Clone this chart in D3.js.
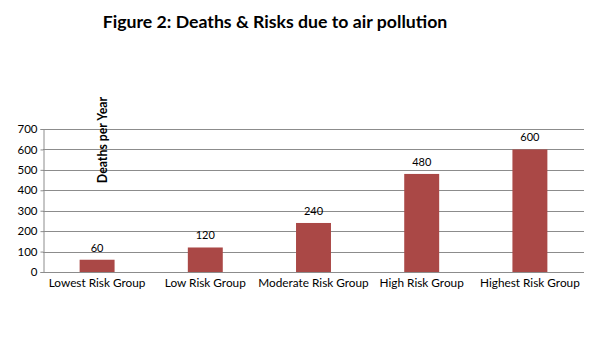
<!DOCTYPE html>
<html>
<head>
<meta charset="utf-8">
<script src="https://cdn.jsdelivr.net/npm/d3@7"></script>
<style>
  html, body { margin: 0; padding: 0; background: #fff; }
  svg { display: block; font-family: Lato, "Open Sans", sans-serif; }
</style>
</head>
<body>
<svg id="chart" width="605" height="340"></svg>
<script>
const categories = ["Lowest Risk Group", "Low Risk Group", "Moderate Risk Group", "High Risk Group", "Highest Risk Group"];
const deaths = [60, 120, 240, 480, 600];
const yTicks = [0, 100, 200, 300, 400, 500, 600, 700];
const titleText = "Figure 2: Deaths & Risks due to air pollution";
const yLabel = "Deaths per Year";

const svg = d3.select("#chart");
const margin = { left: 43, right: 20, top: 129, bottom: 68 };
const W = 605, H = 340;

const x = d3.scaleBand()
  .domain(categories)
  .range([margin.left, W - margin.right - 1])
  .paddingInner(0.677)
  .paddingOuter(0.3385);

const y = d3.scaleLinear()
  .domain([0, 700])
  .range([H - margin.bottom, margin.top]);

// horizontal gridlines
svg.append("g")
  .selectAll("line")
  .data(yTicks)
  .join("line")
  .attr("x1", margin.left)
  .attr("x2", W - margin.right - 1)
  .attr("y1", d => Math.round(y(d)) + 0.5)
  .attr("y2", d => Math.round(y(d)) + 0.5)
  .attr("stroke", "#8c8c8c")
  .attr("stroke-width", 1);

// y axis
const yAxis = svg.append("g")
  .attr("transform", `translate(${margin.left + 0.5},0)`)
  .call(d3.axisLeft(y).tickValues(yTicks).tickSize(3).tickPadding(3).tickFormat(d3.format("d")));
yAxis.select(".domain").attr("stroke", "#8c8c8c");
yAxis.selectAll(".tick line").attr("stroke", "#8c8c8c");
yAxis.selectAll(".tick text")
  .attr("font-size", 11.5)
  .attr("fill", "#000")
  .attr("font-family", "Lato, sans-serif");

// bars
svg.append("g")
  .selectAll("rect")
  .data(deaths)
  .join("rect")
  .attr("x", (d, i) => x(categories[i]))
  .attr("width", x.bandwidth())
  .attr("y", d => y(d))
  .attr("height", d => y(0) - y(d))
  .attr("fill", "#aa4846");

// value labels
svg.append("g")
  .selectAll("text")
  .data(deaths)
  .join("text")
  .attr("x", (d, i) => x(categories[i]) + x.bandwidth() / 2)
  .attr("y", d => y(d) - 8)
  .attr("text-anchor", "middle")
  .attr("font-size", 11)
  .attr("fill", "#000")
  .text(d => d);

// category labels
svg.append("g")
  .selectAll("text")
  .data(categories)
  .join("text")
  .attr("x", d => x(d) + x.bandwidth() / 2)
  .attr("y", y(0) + 15)
  .attr("text-anchor", "middle")
  .attr("font-size", 11.8)
  .attr("fill", "#000")
  .text(d => d);

// y axis title
svg.append("text")
  .attr("transform", `translate(107,140) rotate(-90)`)
  .attr("text-anchor", "middle")
  .attr("font-size", 12.3)
  .attr("font-weight", "bold")
  .attr("fill", "#000")
  .text(yLabel);

// chart title
svg.append("text")
  .attr("x", 275)
  .attr("y", 28)
  .attr("text-anchor", "middle")
  .attr("font-size", 17.7)
  .attr("font-weight", "bold")
  .attr("fill", "#000")
  .text(titleText);
</script>
</body>
</html>
